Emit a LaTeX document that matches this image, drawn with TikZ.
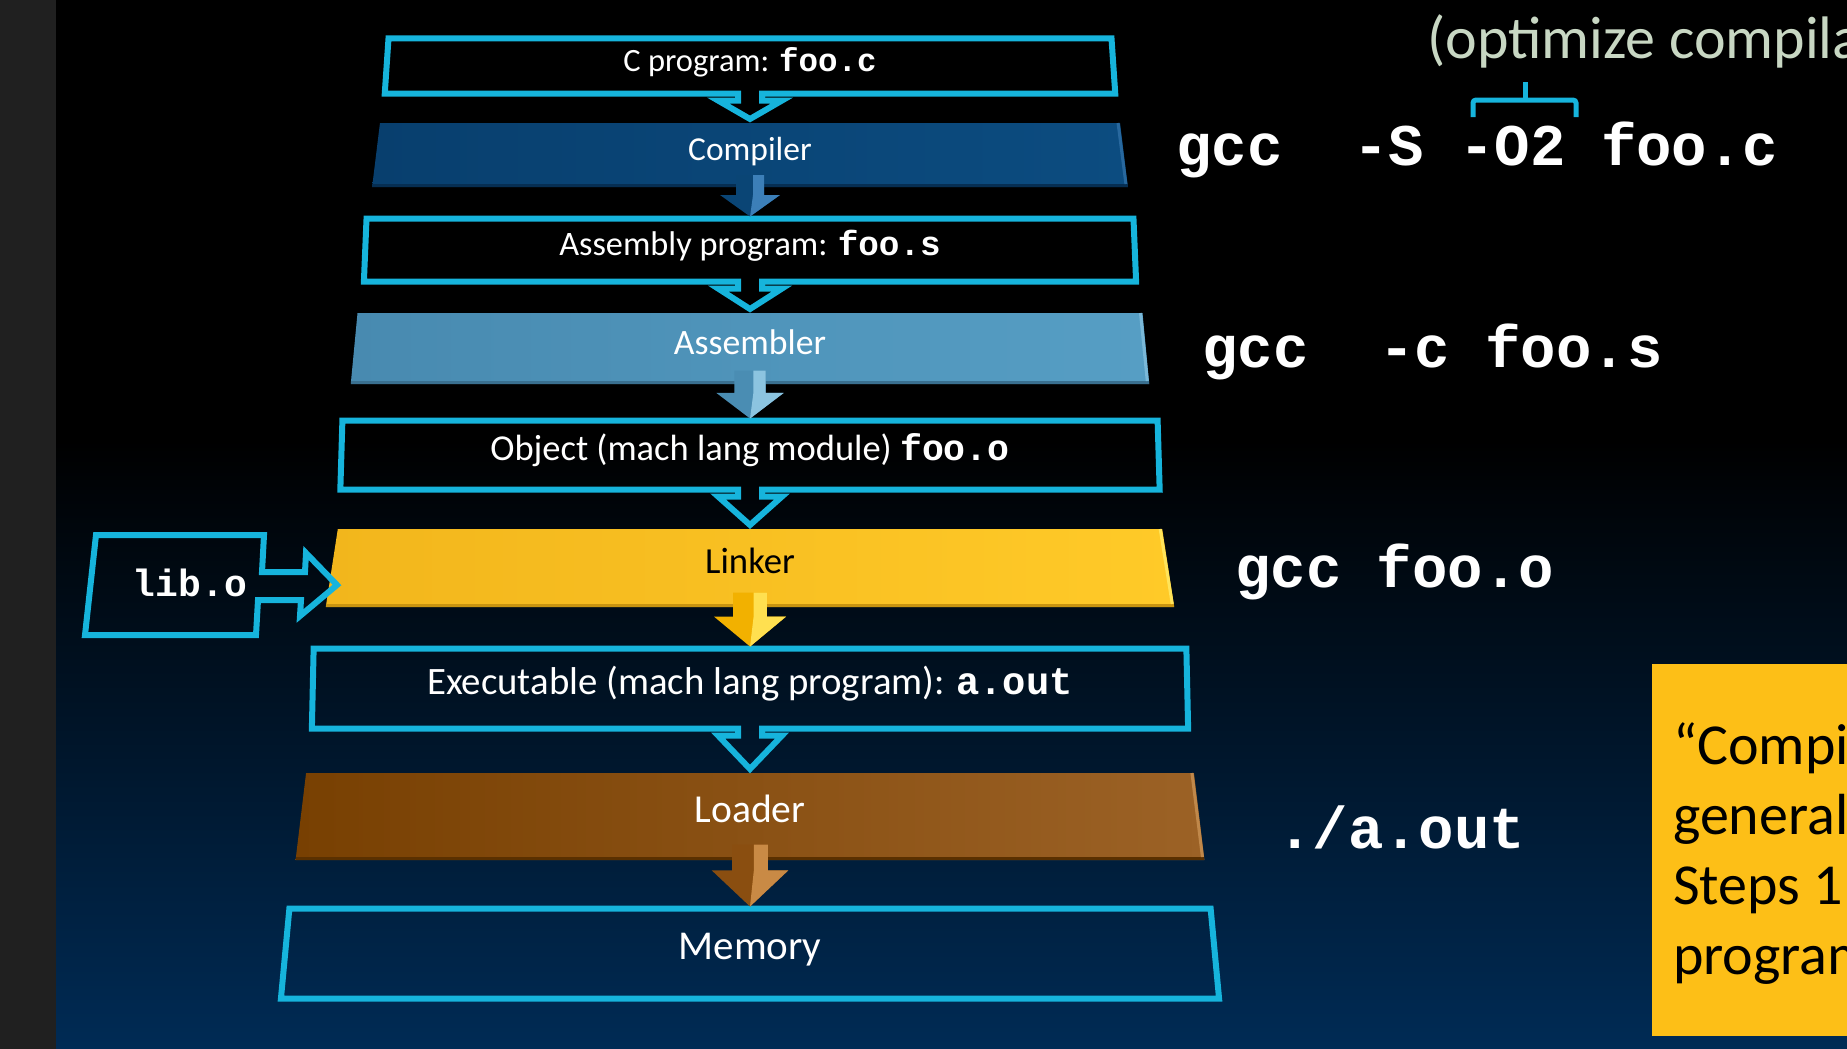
\documentclass[tikz,border=0pt]{standalone}
\usepackage{fontspec}
\setmainfont{Carlito}
\newfontfamily\codefam{Liberation Mono}
\usetikzlibrary{positioning,calc,shapes.geometric}

\definecolor{edgecyan}{HTML}{16B4DC}
\definecolor{bgblue}{HTML}{002B55}
\definecolor{sidegray}{HTML}{202020}
\definecolor{optgreen}{HTML}{C8D7C3}
\definecolor{notegold}{HTML}{FDBF17}
% filled stages: left, right, bevel low, bevel high, arrow dark, arrow light
\definecolor{compL}{RGB}{8,63,110}     \definecolor{compR}{RGB}{12,76,128}
\definecolor{compLo}{RGB}{6,46,82}     \definecolor{compHi}{RGB}{40,104,158}
\definecolor{compA}{RGB}{10,69,117}    \definecolor{compB}{RGB}{60,127,184}
\definecolor{asmL}{RGB}{72,138,176}    \definecolor{asmR}{RGB}{86,158,196}
\definecolor{asmLo}{RGB}{58,112,144}   \definecolor{asmHi}{RGB}{122,184,216}
\definecolor{asmA}{RGB}{74,141,179}    \definecolor{asmB}{RGB}{140,196,224}
\definecolor{linkL}{RGB}{242,182,28}   \definecolor{linkR}{RGB}{255,202,40}
\definecolor{linkLo}{RGB}{200,148,16}  \definecolor{linkHi}{RGB}{255,228,90}
\definecolor{linkA}{RGB}{242,177,0}    \definecolor{linkB}{RGB}{255,224,80}
\definecolor{loadL}{RGB}{120,64,2}     \definecolor{loadR}{RGB}{156,98,38}
\definecolor{loadLo}{RGB}{90,48,0}     \definecolor{loadHi}{RGB}{192,136,74}
\definecolor{loadA}{RGB}{138,78,16}    \definecolor{loadB}{RGB}{201,138,69}

\newcommand{\mono}[1]{{\codefam\bfseries #1}}

% open arrow cut into the bottom edge of an outlined stage
\newcommand{\notcharrow}[2]{%
  \draw[boxline] (#1.bottom left corner) -- ($(#1.south)+(-12,0)$) -- ++(0,7) -- ++(-20,0)
    -- ($(#2.north)+(0,-4)$) -- ($(#1.south)+(32,7)$) -- ++(-20,0) -- ($(#1.south)+(12,0)$)
    -- (#1.bottom right corner) -- (#1.top right corner) -- (#1.top left corner) -- cycle;}

% solid arrow under a filled stage: from, to, dark, light, size
\newcommand{\solidarrow}[5]{%
  \fill[#3] ($(#1.south)+(-14*#5,-12*#5)$) -- ($(#1.south)+(-14*#5,8*#5)$) -- ($(#1.south)+(-30*#5,8*#5)$)
    -- ($(#2.north)+(0,-2)$) -- ($(#1.south)+(30*#5,8*#5)$) -- ($(#1.south)+(14*#5,8*#5)$)
    -- ($(#1.south)+(14*#5,-12*#5)$) -- cycle;
  \fill[#4] ($(#1.south)+(3*#5,-12*#5)$) -- ($(#1.south)+(14*#5,-12*#5)$) -- ($(#1.south)+(14*#5,8*#5)$)
    -- ($(#1.south)+(30*#5,8*#5)$) -- ($(#2.north)+(0,-2)$) -- ($(#1.south)+(3*#5,8*#5)$) -- cycle;}

\begin{document}
\begin{tikzpicture}[x=1pt, y=-1pt,
  stage/.style={trapezium, trapezium left angle=83.5, trapezium right angle=83.5,
    trapezium stretches=true, inner sep=0pt, outer sep=0pt, text=white,
    text height=0.7em, text depth=0.45em,
    execute at begin node=\lower4.5pt\hbox\bgroup, execute at end node=\egroup},
  boxline/.style={draw=edgecyan, line width=6pt, line join=miter},
  cmd/.style={anchor=base west, inner sep=0pt, text=white,
    font=\codefam\bfseries\fontsize{59}{70}\selectfont},
]
\useasboundingbox (0,0) rectangle (1847,1049);
\clip (0,0) rectangle (1847,1049);

% background
\fill[black] (0,0) rectangle (1847,1049);
\shade[top color=black, bottom color=bgblue] (0,440) rectangle (1847,1049);
\fill[sidegray] (0,0) rectangle (56,1049);

% stages
\node[stage, minimum width=731, minimum height=55, font=\fontsize{32.5}{39}\selectfont]
  (cprog) at (750,66) {C program: \mono{foo.c}};
\node[stage, minimum width=756, minimum height=64, left color=compL, right color=compR,
  font=\fontsize{33.5}{40}\selectfont]
  (compiler) at (750,155) {Compiler};
\node[stage, minimum width=775, minimum height=63, font=\fontsize{34.3}{41}\selectfont]
  (asm) at (750,250) {Assembly program: \mono{foo.s}};
\node[stage, minimum width=800, minimum height=71, left color=asmL, right color=asmR,
  font=\fontsize{35.7}{43}\selectfont]
  (assembler) at (750,348.5) {Assembler};
\node[stage, minimum width=823, minimum height=69, font=\fontsize{36.5}{44}\selectfont]
  (obj) at (750,455) {Object (mach lang module) \mono{foo.o}};
\node[stage, minimum width=852, minimum height=78, left color=linkL, right color=linkR,
  text=black, font=\fontsize{36.7}{44}\selectfont]
  (linker) at (750,568) {Linker};
\node[stage, minimum width=877, minimum height=80, font=\fontsize{38.8}{46}\selectfont]
  (exec) at (750,688.5) {Executable (mach lang program): \mono{a.out}};
\node[stage, minimum width=910, minimum height=87, left color=loadL, right color=loadR,
  font=\fontsize{39.6}{47}\selectfont]
  (loader) at (750,816.5) {Loader};
\node[stage, boxline, minimum width=939, minimum height=90, font=\fontsize{41}{49}\selectfont]
  (memory) at (750,953.5) {Memory};

% bevels of the filled stages
\foreach \s/\c in {compiler/comp, assembler/asm, linker/link, loader/load}
{
  \draw[line width=3pt, color=\c Lo] ($(\s.bottom left corner)+(0,-1.5)$) -- ($(\s.bottom right corner)+(0,-1.5)$);
  \draw[line width=3pt, color=\c Hi] ($(\s.bottom right corner)+(-2,-3)$) -- ($(\s.top right corner)+(-2,0)$);
}

% open arrows
\notcharrow{cprog}{compiler}
\notcharrow{asm}{assembler}
\notcharrow{obj}{linker}
\notcharrow{exec}{loader}

% solid arrows
\solidarrow{compiler}{asm}{compA}{compB}{1}
\solidarrow{assembler}{obj}{asmA}{asmB}{1.12}
\solidarrow{linker}{exec}{linkA}{linkB}{1.2}
\solidarrow{loader}{memory}{loadA}{loadB}{1.28}

% library input
\node[anchor=base, inner sep=0pt, text=white, font=\codefam\bfseries\fontsize{38}{46}\selectfont]
  (lib) at (190,596) {lib.o};
\coordinate (libtip) at (337,585);
\draw[boxline] (96,535) -- (264,535) -- (262,572) -- (305,572) -- (306,553) -- (libtip)
  -- (300,616) -- (301,600) -- (258,600) -- (256,635) -- (85,635) -- cycle;

% commands
\node[cmd] (gccS) at (1176,165) {gcc~~-S -O2 foo.c};
\node[cmd] (gccc) at (1202,367) {gcc~~-c foo.s};
\node[cmd] (gcco) at (1235,587) {gcc foo.o};
\node[cmd] (aout) at (1277,848) {./a.out};

\node[anchor=base west, inner sep=0pt, text=optgreen, font=\fontsize{60}{72}\selectfont]
  (optim) at (1427,59) {(optimize compilation)};
\draw[edgecyan, line width=5pt, rounded corners=3pt] (1473,117) -- (1473,100) -- (1576,100) -- (1576,117);
\draw[edgecyan, line width=5pt] (1525,100) -- (1525,82);

% note
\node[fill=notegold, anchor=north west, minimum width=240, minimum height=372, inner sep=0pt]
  (note) at (1652,664) {};
\node[anchor=base west, align=left, inner sep=0pt, font=\fontsize{58}{70}\selectfont]
  (notetext) at (1673,974) {“Compiler”\\generally\\Steps 1\\program};
\end{tikzpicture}
\end{document}
